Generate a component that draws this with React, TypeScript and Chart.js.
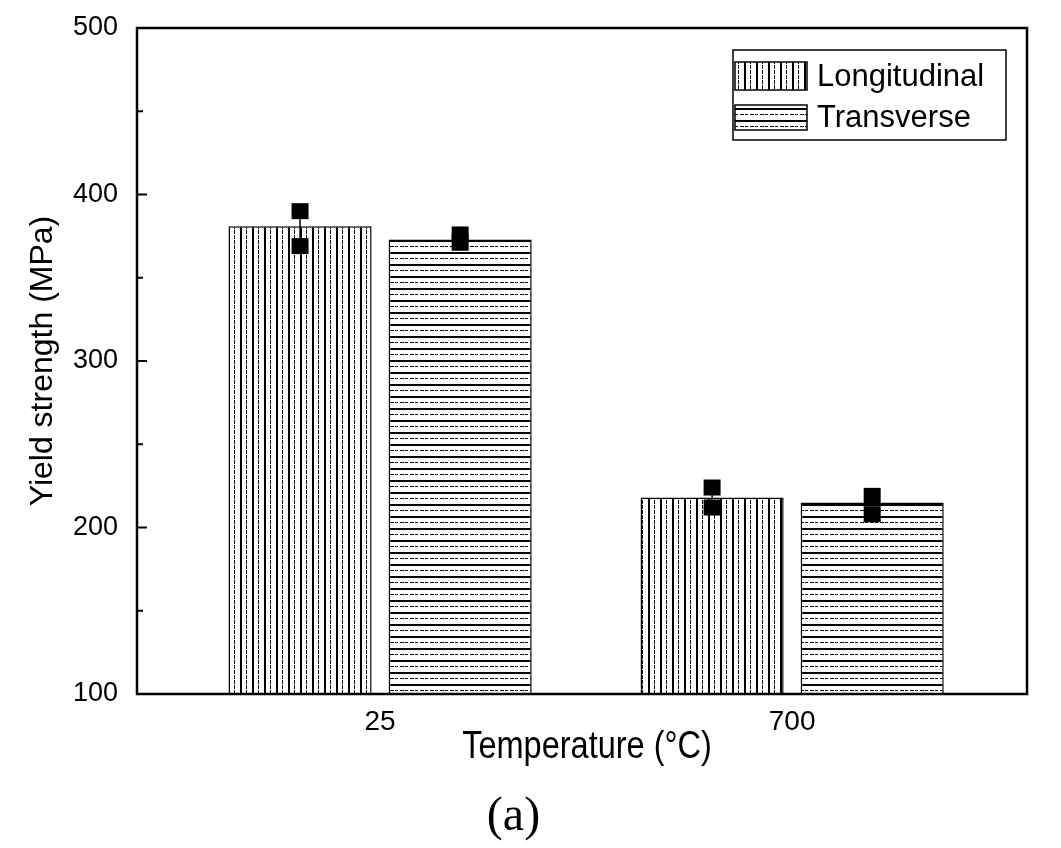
import React, { useEffect, useRef } from 'react';
import { Chart, registerables } from 'chart.js';

Chart.register(...registerables);

// ---- data ----
const categories = ['25', '700'];
const seriesNames = ['Longitudinal', 'Transverse'];
const longitudinalValues = [381, 218];
const transverseValues = [373, 215];
const longitudinalPoints = [[390, 369], [224, 212]];
const transversePoints = [[376, 371], [219, 208]];
const yMajorTicks = [100, 200, 300, 400, 500];
const yMinorTicks = [150, 250, 350, 450];
const xTitle = 'Temperature (°C)';
const yTitle = 'Yield strength (MPa)';
const panelLabel = '(a)';

const SANS = '"Liberation Sans", Arial, Helvetica, sans-serif';
const SERIF = '"Liberation Serif", "Times New Roman", serif';

function makePattern(dir: 'v' | 'h'): CanvasPattern | string {
  const c = document.createElement('canvas');
  if (dir === 'v') {
    c.width = 12;
    c.height = 10;
  } else {
    c.width = 10;
    c.height = 12;
  }
  const g = c.getContext('2d');
  if (!g) return '#888';
  g.fillStyle = '#fff';
  g.fillRect(0, 0, c.width, c.height);
  g.fillStyle = '#000';
  if (dir === 'v') {
    g.fillRect(0, 0, 2, 10);
    g.fillRect(6, 0, 1, 4);
    g.fillRect(6, 5, 1, 4);
  } else {
    g.fillRect(0, 0, 10, 2);
    g.fillRect(0, 6, 4, 1);
    g.fillRect(5, 6, 3, 1);
  }
  return g.createPattern(c, 'repeat') || '#888';
}

const pointSets = [longitudinalPoints, transversePoints];

const decorPlugin = {
  id: 'decor',
  afterDatasetsDraw(chart: any) {
    const { ctx, scales } = chart;
    const y = scales.y;
    pointSets.forEach((sets, di) => {
      const meta = chart.getDatasetMeta(di);
      meta.data.forEach((bar: any, i: number) => {
        const vals = sets[i] || [];
        const px = vals.map((v: number) => y.getPixelForValue(v));
        ctx.save();
        ctx.strokeStyle = '#000';
        ctx.lineWidth = 1.5;
        ctx.beginPath();
        ctx.moveTo(bar.x, Math.min(...px));
        ctx.lineTo(bar.x, Math.max(...px));
        ctx.stroke();
        ctx.fillStyle = '#000';
        px.forEach((p: number) => ctx.fillRect(bar.x - 8.5, p - 8, 17, 16));
        ctx.restore();
      });
    });
  },
  afterDraw(chart: any) {
    const { ctx, chartArea: a, scales } = chart;
    const y = scales.y;
    ctx.save();
    // frame
    ctx.strokeStyle = '#000';
    ctx.lineWidth = 2.5;
    ctx.strokeRect(a.left, a.top, a.right - a.left, a.bottom - a.top);
    // inward ticks
    ctx.lineWidth = 2;
    ctx.beginPath();
    yMajorTicks.forEach((v) => {
      const p = y.getPixelForValue(v);
      ctx.moveTo(a.left, p);
      ctx.lineTo(a.left + 10, p);
    });
    yMinorTicks.forEach((v) => {
      const p = y.getPixelForValue(v);
      ctx.moveTo(a.left, p);
      ctx.lineTo(a.left + 6, p);
    });
    ctx.stroke();

    // x axis title (condensed)
    ctx.fillStyle = '#000';
    ctx.font = `38px ${SANS}`;
    ctx.textAlign = 'center';
    ctx.textBaseline = 'alphabetic';
    const cx = (a.left + a.right) / 2 + 5;
    ctx.save();
    ctx.translate(cx, a.bottom + 64);
    ctx.scale(0.855, 1);
    ctx.fillText(xTitle, 0, 0);
    ctx.restore();

    // legend
    const bw = 273;
    const bh = 90;
    const bx = a.right - 21 - bw;
    const by = a.top + 22;
    ctx.lineWidth = 1.5;
    ctx.strokeStyle = '#000';
    ctx.strokeRect(bx, by, bw, bh);
    const rows = [
      { top: by + 12, h: 28 },
      { top: by + 55, h: 25 },
    ];
    chart.data.datasets.forEach((ds: any, i: number) => {
      const r = rows[i];
      ctx.fillStyle = ds.backgroundColor;
      ctx.fillRect(bx + 2, r.top, 72, r.h);
      ctx.strokeStyle = '#000';
      ctx.lineWidth = 1.5;
      ctx.strokeRect(bx + 2, r.top, 72, r.h);
      ctx.fillStyle = '#000';
      ctx.font = `31px ${SANS}`;
      ctx.textAlign = 'left';
      ctx.textBaseline = 'middle';
      ctx.fillText(ds.label, bx + 84, r.top + r.h / 2 + 1);
    });
    ctx.restore();
  },
};

export default function App() {
  const ref = useRef<HTMLCanvasElement | null>(null);

  useEffect(() => {
    if (!ref.current) return;
    const vPat = makePattern('v');
    const hPat = makePattern('h');
    const chart = new Chart(ref.current, {
      type: 'bar',
      data: {
        datasets: [
          {
            label: seriesNames[0],
            data: categories.map((_, i) => ({ x: i, y: longitudinalValues[i] })),
            backgroundColor: vPat as any,
            borderColor: '#000',
            borderWidth: 1.5,
            categoryPercentage: 0.777,
            barPercentage: 0.894,
          },
          {
            label: seriesNames[1],
            data: categories.map((_, i) => ({ x: i, y: transverseValues[i] })),
            backgroundColor: hPat as any,
            borderColor: '#000',
            borderWidth: 1.5,
            categoryPercentage: 0.777,
            barPercentage: 0.894,
          },
        ],
      },
      options: {
        animation: false,
        responsive: false,
        layout: { padding: { top: 28, right: 34, left: 0, bottom: 0 } },
        plugins: {
          legend: { display: false },
          tooltip: { enabled: false },
          title: {
            display: true,
            text: panelLabel,
            position: 'bottom',
            color: '#000',
            font: { family: SERIF, size: 48, weight: 'normal' },
            padding: { top: 0, bottom: 2 },
          },
        },
        scales: {
          x: {
            type: 'linear',
            min: -0.59,
            max: 1.57,
            offset: false,
            grid: { display: false, drawTicks: false, offset: false },
            border: { display: false },
            afterBuildTicks: (s: any) => {
              s.ticks = categories.map((_, i) => ({ value: i }));
            },
            afterFit: (s: any) => {
              s.height = 94.4;
              s.paddingLeft = 0;
              s.paddingRight = 0;
            },
            ticks: {
              includeBounds: false,
              autoSkip: false,
              maxRotation: 0,
              minRotation: 0,
              padding: 11,
              color: '#000',
              font: { family: SANS, size: 28 },
              callback: (v: any) => categories[v as number] ?? '',
            },
          },
          y: {
            type: 'linear',
            min: 100,
            max: 500,
            grid: { display: false, drawTicks: false },
            border: { display: false },
            afterFit: (s: any) => {
              s.width = 137;
              s.paddingTop = 0;
              s.paddingBottom = 0;
            },
            ticks: {
              stepSize: 100,
              padding: 19,
              color: '#000',
              font: { family: SANS, size: 27 },
            },
            title: {
              display: true,
              text: yTitle,
              color: '#000',
              font: { family: SANS, size: 32 },
              padding: { top: 24, bottom: 0 },
            },
          },
        },
      },
      plugins: [decorPlugin],
    });
    return () => chart.destroy();
  }, []);

  return (
    <div style={{ position: 'fixed', left: 0, top: 0, width: 1061, height: 848, background: '#fff' }}>
      <canvas ref={ref} width={1061} height={848} style={{ display: 'block' }} />
    </div>
  );
}
